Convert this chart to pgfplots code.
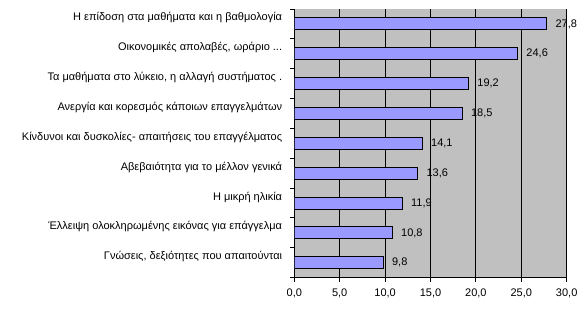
\documentclass[border=0pt]{standalone}
\usepackage{pgfplots}
\pgfplotsset{compat=1.18}
\usepackage{fontspec}
\setmainfont{Liberation Sans}
\definecolor{plotgray}{RGB}{192,192,192}
\definecolor{barblue}{RGB}{153,153,255}
\newcommand\f{\fontsize{11bp}{13bp}\selectfont}
\begin{document}
\begin{tikzpicture}
\useasboundingbox (0,0) rectangle (588bp,317bp);
\begin{axis}[
  at={(294.3bp,39.3bp)}, anchor=south west,
  scale only axis, width=272.4bp, height=268.7bp,
  xbar, bar width=12bp,
  xmin=0, xmax=30, ymin=-0.5, ymax=8.5,
  y dir=reverse,
  axis lines*=left,
  axis line style={black, line width=1bp},
  axis background/.style={fill=plotgray},
  xtick={0,5,10,15,20,25,30},
  xmajorgrids, grid style={black, line width=1bp},
  tick align=outside, major tick length=4bp,
  tick style={black, line width=1bp},
  ytick={0,1,2,3,4,5,6,7,8},
  yticklabels={{Η επίδοση στα μαθήματα και η βαθμολογία},{Οικονομικές απολαβές, ωράριο {.}{.}{.}},{Τα μαθήματα στο λύκειο, η αλλαγή συστήματος {.}},{Ανεργία και κορεσμός κάποιων επαγγελμάτων},{Κίνδυνοι και δυσκολίες- απαιτήσεις του επαγγέλματος},{Αβεβαιότητα για το μέλλον γενικά},{Η μικρή ηλικία},{Έλλειψη ολοκληρωμένης εικόνας για επάγγελμα},{Γνώσεις, δεξιότητες που απαιτούνται}},
  y tick style={draw=none},
  minor ytick={-0.5,0.5,1.5,2.5,3.5,4.5,5.5,6.5,7.5,8.5},
  minor y tick style={draw=black, line width=1bp},
  minor tick length=4bp,
  yticklabel style={font=\f, inner sep=0pt, anchor=east, xshift=-8bp, yshift=6bp},
  xticklabel style={font=\f, yshift=-4bp},
  /pgf/number format/.cd, use comma, fixed, fixed zerofill, precision=1, assume math mode=true,
  /pgfplots/.cd,
  nodes near coords,
  nodes near coords style={font=\f, anchor=west, xshift=5bp, /pgf/number format/.cd, use comma, fixed, fixed zerofill, precision=1, assume math mode=true},
]
\addplot[fill=barblue, draw=black, line width=1bp] coordinates {
(27.8,0) (24.6,1) (19.2,2) (18.5,3) (14.1,4) (13.6,5) (11.9,6) (10.8,7) (9.8,8)};
\end{axis}
\end{tikzpicture}
\end{document}
